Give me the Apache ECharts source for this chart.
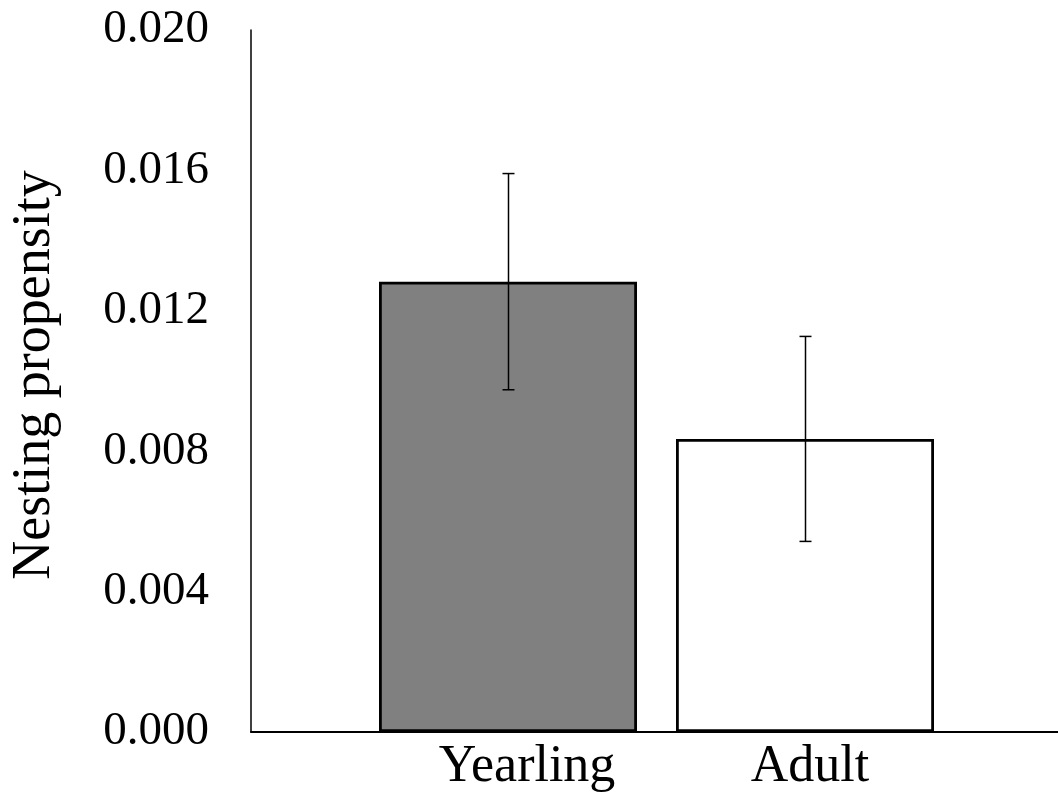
<!DOCTYPE html>
<html>
<head>
<meta charset="utf-8">
<script src="https://cdn.jsdelivr.net/npm/echarts@6/dist/echarts.min.js"></script>
<style>
html,body{margin:0;padding:0;background:#fff;}
#chart{width:1058px;height:801px;}
</style>
</head>
<body>
<div id="chart"></div>
<script>
var categories = ['Yearling', 'Adult'];
var means = [0.01283, 0.00835];
var errors = [0.00308, 0.00292];
var barColors = ['#808080', '#ffffff'];
var yTicks = [0, 0.004, 0.008, 0.012, 0.016, 0.020];

var FONT = '"Liberation Serif", "Times New Roman", serif';
var labelPadLeft = [38, 10];
var chart = echarts.init(document.getElementById('chart'), null, {renderer: 'canvas'});

var option = {
  animation: false,
  backgroundColor: '#ffffff',
  grid: [
    {left: 250, right: 0, top: 30, bottom: 69},
    {left: 359.5, right: 104.5, top: 30, bottom: 69}
  ],
  xAxis: [
    {
      gridIndex: 0, type: 'category', data: categories,
      axisLine: {show: true, lineStyle: {color: '#000', width: 2}},
      axisTick: {show: false}, axisLabel: {show: false}, splitLine: {show: false}
    },
    {
      gridIndex: 1, type: 'category',
      data: categories.map(function (c, i) {
        return {value: c, textStyle: {padding: [0, 0, 0, labelPadLeft[i]]}};
      }),
      axisLine: {show: false}, axisTick: {show: false},
      axisLabel: {show: true, color: '#000', fontFamily: FONT, fontSize: 52, margin: 9}
    }
  ],
  yAxis: [
    {
      gridIndex: 0, type: 'value', min: yTicks[0], max: yTicks[yTicks.length - 1], interval: 0.004,
      axisLine: {show: true, lineStyle: {color: '#000', width: 1.5}},
      axisTick: {show: false}, splitLine: {show: false},
      axisLabel: {
        color: '#000', fontFamily: FONT, fontSize: 47, margin: 42,
        formatter: function (v) { return v.toFixed(3); }
      },
      name: 'Nesting propensity', nameLocation: 'middle', nameRotate: 90, nameGap: 189,
      nameTextStyle: {color: '#000', fontFamily: FONT, fontSize: 54, padding: [0, 0, 0, 12]}
    },
    {
      gridIndex: 1, type: 'value', min: yTicks[0], max: yTicks[yTicks.length - 1], interval: 0.004, show: false
    }
  ],
  series: [
    {
      type: 'bar', xAxisIndex: 1, yAxisIndex: 1, barWidth: 258,
      data: means.map(function (v, i) {
        return {value: v, itemStyle: {color: barColors[i], borderColor: '#000', borderWidth: 2.8}};
      }),
      z: 2
    },
    {
      type: 'custom', xAxisIndex: 1, yAxisIndex: 1, z: 5,
      data: means.map(function (v, i) { return [i, v - errors[i], v + errors[i]]; }),
      renderItem: function (params, api) {
        var lo = api.coord([api.value(0), api.value(1)]);
        var hi = api.coord([api.value(0), api.value(2)]);
        var x = Math.round(lo[0]) + 0.5;
        var cap = 6;
        var st = {stroke: '#000', lineWidth: 1.5};
        return {
          type: 'group',
          children: [
            {type: 'line', shape: {x1: x, y1: hi[1], x2: x, y2: lo[1]}, style: st},
            {type: 'line', shape: {x1: x - cap, y1: hi[1], x2: x + cap, y2: hi[1]}, style: st},
            {type: 'line', shape: {x1: x - cap, y1: lo[1], x2: x + cap, y2: lo[1]}, style: st}
          ]
        };
      }
    }
  ]
};
chart.setOption(option);
</script>
</body>
</html>
